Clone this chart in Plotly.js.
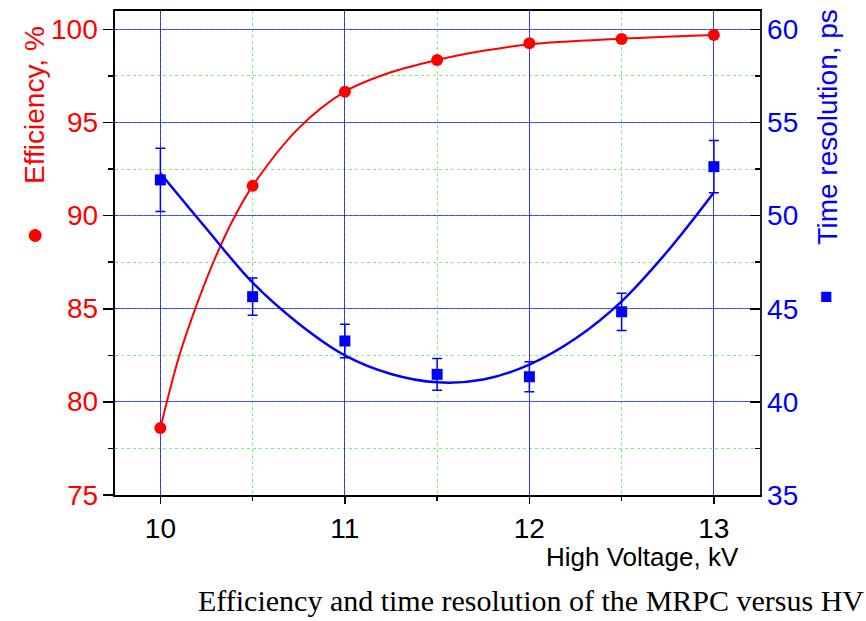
<!DOCTYPE html>
<html>
<head>
<meta charset="utf-8">
<script src="https://cdn.plot.ly/plotly-3.0.1.min.js"></script>
<style>html,body{margin:0;padding:0;background:#fff;}#chart{width:866px;height:621px;}</style>
</head>
<body>
<div id="chart"></div>
<script>
// Measured data
const hv = [10, 10.5, 11, 11.5, 12, 12.5, 13];
const efficiency = [78.6, 91.6, 96.66, 98.36, 99.26, 99.49, 99.7];
const timeRes = [51.92, 45.65, 43.27, 41.48, 41.35, 44.84, 52.63];
const timeResErr = [1.7, 1.0, 0.9, 0.85, 0.8, 1.0, 1.4];

// Fit curves
const effFitX = [10, 10.1, 10.2, 10.3, 10.4, 10.5, 10.75, 11, 11.25, 11.5, 11.75, 12, 12.5, 13];
const effFitY = [78.6, 82.4, 85.3, 87.8, 89.9, 91.6, 94.7, 96.66, 97.7, 98.36, 98.85, 99.2, 99.5, 99.7];
const resFitX = [10, 10.25, 10.5, 10.75, 11, 11.25, 11.5, 11.75, 12, 12.25, 12.5, 12.75, 13];
const resFitY = [52.28, 49.3, 46.4, 44.2, 42.5, 41.5, 41.05, 41.2, 42.0, 43.4, 45.4, 48.1, 51.24];

const xTicks = [10, 11, 12, 13];
const yTicks = [75, 80, 85, 90, 95, 100];
const y2Ticks = [35, 40, 45, 50, 55, 60];

const FONT = '"Liberation Sans", Arial, sans-serif';
const RED = '#ff0000';
const BLUE = '#0000ff';

const traces = [
  {x: resFitX, y: resFitY, yaxis: 'y2', mode: 'lines', line: {color: BLUE, width: 2.5, shape: 'spline', smoothing: 1}, hoverinfo: 'skip'},
  {x: hv, y: timeRes, yaxis: 'y2', mode: 'markers', marker: {symbol: 'square', size: 11, color: BLUE},
   error_y: {type: 'data', array: timeResErr, visible: true, color: BLUE, thickness: 1.5, width: 5}},
  {x: effFitX, y: effFitY, yaxis: 'y', mode: 'lines', line: {color: RED, width: 2, shape: 'spline', smoothing: 1}, hoverinfo: 'skip'},
  {x: hv, y: efficiency, yaxis: 'y', mode: 'markers', marker: {symbol: 'circle', size: 12, color: RED}}
];

const gridMinor = {showgrid: true, gridcolor: '#77f077', griddash: 'dot', gridwidth: 1};

// left-axis tick labels placed on the y scale with a wider standoff
const leftTickLabels = yTicks.map(v => ({
  xref: 'paper', yref: 'y', x: -0.0235, y: v, text: String(v), showarrow: false,
  xanchor: 'right', yanchor: 'middle', font: {family: FONT, size: 28, color: RED}
}));

const layout = {
  width: 866, height: 621,
  margin: {l: 115, r: 106, t: 11, b: 126},
  paper_bgcolor: '#fff', plot_bgcolor: '#fff',
  showlegend: false,
  font: {family: FONT, size: 28, color: '#000'},
  xaxis: {
    range: [9.754, 13.25], tickvals: xTicks, ticktext: xTicks.map(String),
    ticks: 'outside', ticklen: 7, tickwidth: 1.5, tickcolor: '#000',
    showline: true, linecolor: '#000', linewidth: 2, mirror: true,
    showgrid: true, gridcolor: 'rgba(0,0,255,0.75)', gridwidth: 1.2,
    zeroline: false,
    tickfont: {family: FONT, size: 28, color: '#000'},
    minor: Object.assign({dtick: 0.5, tick0: 0, ticks: 'outside', ticklen: 4, tickcolor: '#000'}, gridMinor)
  },
  yaxis: {
    range: [75, 100.99], tickvals: yTicks, showticklabels: false,
    ticks: 'outside', ticklen: 10, tickwidth: 1.5, tickcolor: '#000',
    showline: true, linecolor: '#000', linewidth: 2,
    showgrid: true, gridcolor: 'rgba(0,0,255,0.65)', gridwidth: 1.2,
    zeroline: false,
    minor: Object.assign({dtick: 2.5, tick0: 75, ticks: 'outside', ticklen: 5, tickcolor: '#000'}, gridMinor)
  },
  yaxis2: {
    range: [35, 60.99], tickvals: y2Ticks, ticktext: y2Ticks.map(String),
    overlaying: 'y', side: 'right',
    ticks: 'inside', ticklen: 10, tickwidth: 1.5, tickcolor: '#000',
    showline: true, linecolor: '#222', linewidth: 1.5,
    showgrid: false, zeroline: false,
    tickfont: {family: FONT, size: 28, color: BLUE},
    minor: {dtick: 2.5, tick0: 35, ticks: 'inside', ticklen: 5, tickcolor: '#000', showgrid: false}
  },
  annotations: leftTickLabels.concat([
    {xref: 'paper', yref: 'paper', x: -0.124, y: 0.806, text: 'Efficiency, %', textangle: -90,
     showarrow: false, xanchor: 'center', yanchor: 'middle', font: {family: FONT, size: 28, color: RED}},
    {xref: 'paper', yref: 'paper', x: -0.124, y: 0.541, text: '●', showarrow: false,
     xanchor: 'center', yanchor: 'middle', font: {family: FONT, size: 30, color: RED}},
    {xref: 'paper', yref: 'paper', x: 1.1054, y: 0.761, text: 'Time resolution, ps', textangle: -90,
     showarrow: false, xanchor: 'center', yanchor: 'middle', font: {family: FONT, size: 28, color: BLUE}},
    {xref: 'paper', yref: 'paper', x: 1.103, y: 0.413, text: '■', showarrow: false,
     xanchor: 'center', yanchor: 'middle', font: {family: FONT, size: 21, color: BLUE}},
    {xref: 'paper', yref: 'paper', x: 0.9705, y: -0.128, text: 'High Voltage, kV', showarrow: false,
     xanchor: 'right', yanchor: 'middle', font: {family: FONT, size: 26, color: '#000'}},
    {xref: 'paper', yref: 'paper', x: 0.645, y: -0.217, text: 'Efficiency and time resolution of the MRPC versus HV',
     showarrow: false, xanchor: 'center', yanchor: 'middle', font: {family: '"Liberation Serif", "Times New Roman", serif', size: 30, color: '#000'}}
  ])
};

Plotly.newPlot('chart', traces, layout, {displayModeBar: false, staticPlot: true});
</script>
</body>
</html>
